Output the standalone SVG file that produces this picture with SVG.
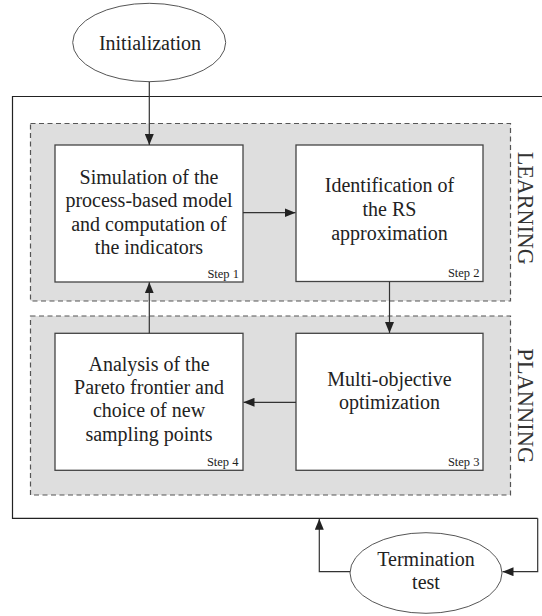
<svg xmlns="http://www.w3.org/2000/svg" width="542" height="616" viewBox="0 0 542 616">
  <style>
    .txt { font-family: "Liberation Serif", "Times New Roman", serif; font-size: 20px; fill: #222; text-anchor: middle; }
    .step { font-family: "Liberation Serif", "Times New Roman", serif; font-size: 12.5px; fill: #222; text-anchor: end; }
    .side { font-family: "Liberation Serif", "Times New Roman", serif; font-size: 24px; fill: #333; text-anchor: middle; }
    .box { fill: #ffffff; stroke: #444; stroke-width: 1.3; }
    .phase { fill: #dedede; stroke: #555; stroke-width: 1.2; stroke-dasharray: 5 3.5; }
    .oval { fill: #ffffff; stroke: #555; stroke-width: 1; }
    .conn { fill: none; stroke: #333; stroke-width: 1.2; marker-end: url(#arrow); }
    .frame { fill: none; stroke: #222; stroke-width: 1.2; }
  </style>
  <defs>
    <marker id="arrow" markerUnits="userSpaceOnUse" markerWidth="11" markerHeight="9" refX="11" refY="4.5" orient="auto">
      <path d="M0,0 L11,4.5 L0,9 z" fill="#222"/>
    </marker>
  </defs>

  <rect width="542" height="616" fill="#ffffff"/>

  <path id="frame" class="frame" d="M542 96.5 H12.5 V518.3 H537.7"/>

  <g id="learning">
    <rect class="phase" x="30.5" y="123.5" width="480" height="177.5"/>
    <text class="side" transform="translate(517.7 208.3) rotate(90)" textLength="113" lengthAdjust="spacingAndGlyphs">LEARNING</text>
  </g>
  <g id="planning">
    <rect class="phase" x="30.5" y="316" width="480" height="179"/>
    <text class="side" transform="translate(517.7 405.8) rotate(90)" textLength="115" lengthAdjust="spacingAndGlyphs">PLANNING</text>
  </g>

  <g id="initialization">
    <ellipse class="oval" cx="149.2" cy="42.5" rx="76.5" ry="39.2"/>
    <text class="txt" x="150" y="50">Initialization</text>
  </g>

  <g id="step1">
    <rect class="box" x="55" y="145" width="188" height="137"/>
    <text class="txt" x="149" y="184">Simulation of the</text>
    <text class="txt" x="149" y="207.3">process-based model</text>
    <text class="txt" x="149" y="230.6">and computation of</text>
    <text class="txt" x="149" y="254">the indicators</text>
    <text class="step" x="239" y="277.5">Step 1</text>
  </g>

  <g id="step2">
    <rect class="box" x="296" y="145" width="187" height="136.5"/>
    <text class="txt" x="389.5" y="192.3">Identification of</text>
    <text class="txt" x="389.5" y="216">the RS</text>
    <text class="txt" x="389.5" y="240">approximation</text>
    <text class="step" x="479.5" y="277.3">Step 2</text>
  </g>

  <g id="step3">
    <rect class="box" x="296" y="333.3" width="187" height="137"/>
    <text class="txt" x="389.5" y="385.5">Multi-objective</text>
    <text class="txt" x="389.5" y="409">optimization</text>
    <text class="step" x="479.5" y="465.5">Step 3</text>
  </g>

  <g id="step4">
    <rect class="box" x="55" y="333.3" width="188" height="137"/>
    <text class="txt" x="149" y="370.7">Analysis of the</text>
    <text class="txt" x="149" y="394">Pareto frontier and</text>
    <text class="txt" x="149" y="417.3">choice of new</text>
    <text class="txt" x="149" y="441">sampling points</text>
    <text class="step" x="238.5" y="465.5">Step 4</text>
  </g>

  <g id="termination">
    <ellipse class="oval" cx="426" cy="573" rx="76" ry="40.3"/>
    <text class="txt" x="426" y="566">Termination</text>
    <text class="txt" x="426" y="589.3">test</text>
  </g>

  <g id="connectors">
    <path class="conn" d="M149.3 81.7 V145"/>
    <path class="conn" d="M243 212.7 H295.5"/>
    <path class="conn" d="M389.5 281.5 V333"/>
    <path class="conn" d="M296 402.3 H243.5"/>
    <path class="conn" d="M149.3 333.3 V282.3"/>
    <path class="conn" d="M350 571.7 H319.3 V518.8"/>
    <path class="conn" d="M537.7 518.3 V571.7 H502.5"/>
  </g>
</svg>
